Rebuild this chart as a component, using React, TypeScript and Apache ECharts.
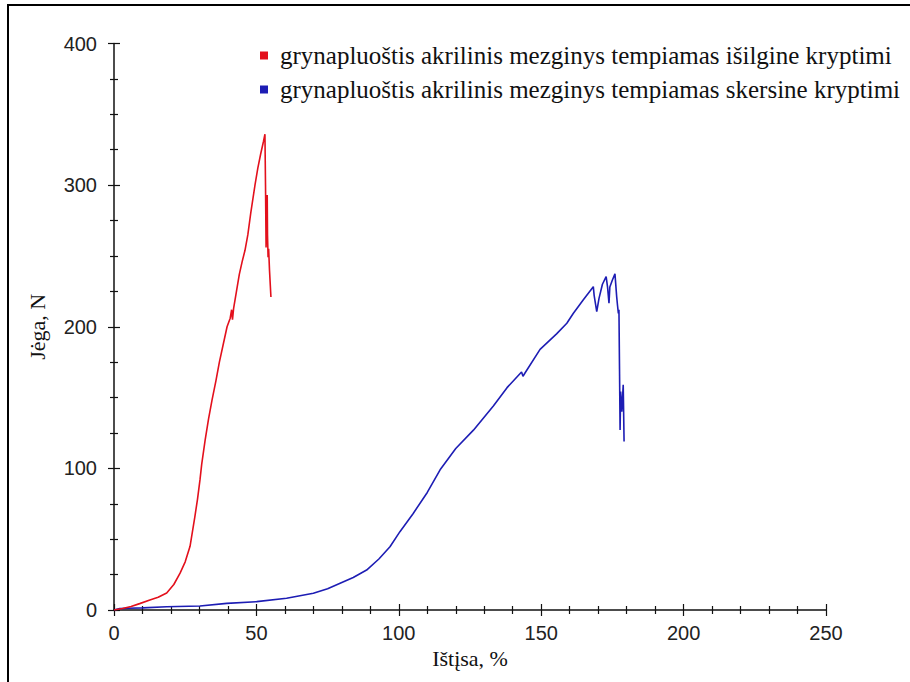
import React, { useEffect, useRef } from "react";
import * as echarts from "echarts";

const seriesNames = [
  "grynapluoštis akrilinis mezginys tempiamas išilgine kryptimi",
  "grynapluoštis akrilinis mezginys tempiamas skersine kryptimi",
];

const xTicks = [0, 50, 100, 150, 200, 250];
const yTicks = [0, 100, 200, 300, 400];

// [elongation %, force N]
const redData = [
  [0, 0], [3, 1], [6, 2.5], [9, 4.5], [12.6, 7], [15.5, 9], [18.5, 12], [21, 18],
  [23.2, 26], [25, 34], [26.7, 45], [28.4, 66], [29.3, 78], [30.2, 92], [30.8, 103],
  [32, 120], [33.2, 135], [34.4, 148], [35.8, 162], [37, 175], [38.4, 188], [39.7, 200],
  [40.8, 206], [41.3, 212], [41.6, 205], [42, 213], [43, 225], [44, 237], [45, 246],
  [46, 254], [47, 265], [48, 280], [49.5, 300], [50.5, 312], [51.5, 322], [52.5, 331],
  [53, 336], [53.2, 300], [53.4, 256], [53.6, 280], [53.8, 293], [53.9, 265], [54.1, 249],
  [54.3, 255], [54.6, 240], [55.1, 221],
];

const blueData = [
  [0, 0], [2, 1], [5, 1.2], [10, 1.5], [18.5, 2.3], [30.2, 2.8], [39.6, 4.7], [50.1, 5.9],
  [60.6, 8.3], [70, 11.8], [75, 15], [79.4, 18.9], [84, 23], [88.7, 28.2], [93, 36],
  [96.9, 44.7], [100.4, 55.3], [105, 68], [110, 83], [114.5, 99], [120, 114], [126.2, 127],
  [133.2, 144], [138, 157], [143.1, 168], [143.6, 165], [144.2, 167], [149.6, 184],
  [155.4, 195], [159, 202.5], [161.3, 209.5], [164.8, 219], [168.3, 228.3], [168.6, 222],
  [169.5, 210.7], [170.3, 220], [171.5, 230], [172.8, 235.4], [173.3, 228], [173.8, 216.6],
  [174.1, 228], [175, 233], [175.9, 237.3], [176.5, 221.3], [176.8, 215], [177.1, 209.5],
  [177.3, 212], [177.5, 170], [177.7, 127.1], [177.9, 154.2], [178.3, 140], [178.8, 159],
  [179.1, 118.9],
];

const RED = "#e3101c";
const BLUE = "#1d1db4";

export default function App() {
  const ref = useRef<HTMLDivElement>(null);

  useEffect(() => {
    if (!ref.current) return;
    const chart = echarts.init(ref.current, null, { renderer: "svg" });
    const sans = "Liberation Sans";
    const serif = "Liberation Serif";
    const axisBase = (min: number, max: number, interval: number, split: number) => ({
      type: "value" as const,
      min,
      max,
      interval,
      splitLine: { show: false },
      minorTick: { show: true, splitNumber: split, length: 4, lineStyle: { color: "#111", width: 1.2 } },
      axisTick: { show: true, length: 6, lineStyle: { color: "#111", width: 1.2 } },
      axisLine: { show: true, onZero: false, lineStyle: { color: "#111", width: 1.5 } },
    });
    chart.setOption({
      animation: false,
      backgroundColor: "#fff",
      textStyle: { fontFamily: serif },
      grid: { left: 114, top: 43.5, right: 84, bottom: 72 },
      legend: {
        orient: "vertical",
        left: 255,
        top: 38,
        icon: "rect",
        itemWidth: 8,
        itemHeight: 8,
        itemGap: 9,
        data: seriesNames,
        textStyle: {
          fontFamily: serif,
          fontSize: 25,
          lineHeight: 25,
          color: "#111",
          padding: [0, 0, 0, 7],
        },
      },
      xAxis: [
        {
          ...axisBase(xTicks[0], xTicks[xTicks.length - 1], 50, 5),
          name: "Ištįsa, %",
          nameLocation: "middle",
          nameGap: 37,
          nameTextStyle: { fontFamily: serif, fontSize: 22, color: "#111" },
          axisLabel: { fontFamily: sans, fontSize: 20, color: "#222", margin: 13 },
        },
        {
          ...axisBase(xTicks[0], xTicks[xTicks.length - 1], 50, 5),
          position: "bottom",
          axisLine: { show: false },
          axisLabel: { show: false },
          axisTick: { show: true, inside: true, length: 6, lineStyle: { color: "#111", width: 1.2 } },
        },
      ],
      yAxis: [
        {
          ...axisBase(yTicks[0], yTicks[yTicks.length - 1], 100, 4),
          name: "Jėga, N",
          nameLocation: "middle",
          nameGap: 66,
          nameTextStyle: { fontFamily: serif, fontSize: 22, color: "#111" },
          axisLabel: { fontFamily: sans, fontSize: 20, color: "#222", margin: 17 },
        },
        {
          ...axisBase(yTicks[0], yTicks[yTicks.length - 1], 100, 4),
          position: "left",
          axisLine: { show: false },
          axisLabel: { show: false },
          axisTick: { show: true, inside: true, length: 6, lineStyle: { color: "#111", width: 1.2 } },
        },
      ],
      series: [
        {
          name: seriesNames[0],
          type: "line",
          data: redData,
          showSymbol: false,
          color: RED,
          lineStyle: { width: 1.6, color: RED },
          z: 3,
        },
        {
          name: seriesNames[1],
          type: "line",
          data: blueData,
          showSymbol: false,
          color: BLUE,
          lineStyle: { width: 1.6, color: BLUE },
          z: 2,
        },
      ],
      graphic: [
        { type: "line", shape: { x1: 8, y1: 4, x2: 8, y2: 682 }, style: { stroke: "#000", lineWidth: 2 } },
        { type: "line", shape: { x1: 7, y1: 5, x2: 910, y2: 5 }, style: { stroke: "#000", lineWidth: 2 } },
      ],
    });
    return () => chart.dispose();
  }, []);

  return (
    <div
      ref={ref}
      style={{ position: "absolute", left: 0, top: 0, width: 910, height: 682 }}
    />
  );
}
